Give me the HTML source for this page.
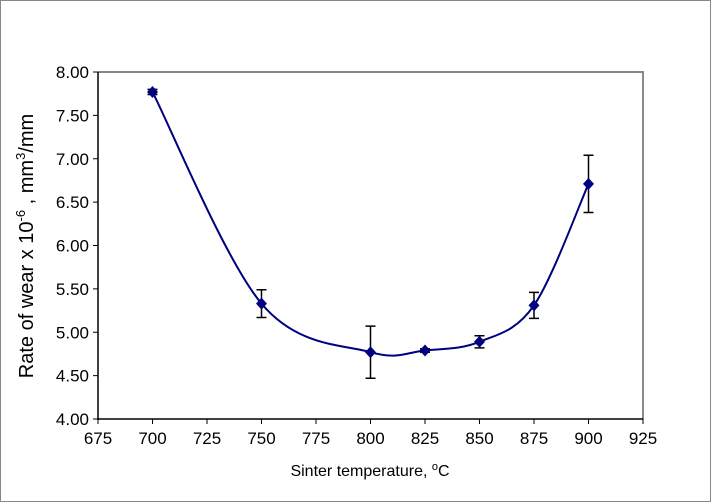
<!DOCTYPE html>
<html><head><meta charset="utf-8"><style>
body{margin:0;background:#fff}
svg{display:block;font-family:"Liberation Sans",Arial,sans-serif}
</style></head><body>
<svg id="c" width="711" height="502">
<rect x="0.5" y="0.5" width="710" height="501" fill="#fff" stroke="#888"/>
<g id="g"></g>
</svg>
<script>
const temps=[700,750,800,825,850,875,900];
const wear=[7.77,5.33,4.77,4.79,4.89,5.31,6.71];
const errs=[0.03,0.16,0.30,0.02,0.07,0.15,0.33];
const xTicks=[675,700,725,750,775,800,825,850,875,900,925];
const yTicks=[4.00,4.50,5.00,5.50,6.00,6.50,7.00,7.50,8.00];
const L=98,R=643,T=72,B=419;
const X=v=>L+(v-675)/250*(R-L);
const Y=v=>B-(v-4)/4*(B-T);
const ns="http://www.w3.org/2000/svg";
const g=document.getElementById('g');
function el(t,a,p){const e=document.createElementNS(ns,t);for(const k in a)e.setAttribute(k,a[k]);(p||g).appendChild(e);return e;}
let e;
e=el('path',{d:`M${L},${T}H${R}V${B}`,fill:'none',stroke:'#888',"stroke-width":2});


e=el('line',{x1:L,y1:T,x2:L,y2:B+1,stroke:'#000',"stroke-width":1.5});


e=el('line',{x1:L-1,y1:B,x2:R,y2:B,stroke:'#000',"stroke-width":1.5});


yTicks.forEach(v=>{
 el('line',{x1:L-5,y1:Y(v),x2:L,y2:Y(v),stroke:'#000'});
 const t=el('text',{x:L-9,y:Y(v)+6,"text-anchor":"end","font-size":17});
 t.textContent=v.toFixed(2);
 
 
});
xTicks.forEach(v=>{
 el('line',{x1:X(v),y1:B,x2:X(v),y2:B+5,stroke:'#000'});
 const t=el('text',{x:X(v),y:B+25,"text-anchor":"middle","font-size":17});
 t.textContent=v;
 
 
});
const P=temps.map((t,i)=>[X(t),Y(wear[i])]);
let d=`M${P[0][0]},${P[0][1]}`;
for(let i=0;i<P.length-1;i++){
 const p0=P[i-1]||P[i],p1=P[i],p2=P[i+1],p3=P[i+2]||P[i+1];
 const c1=[p1[0]+(p2[0]-p0[0])/6,p1[1]+(p2[1]-p0[1])/6];
 const c2=[p2[0]-(p3[0]-p1[0])/6,p2[1]-(p3[1]-p1[1])/6];
 d+=`C${c1[0]},${c1[1]} ${c2[0]},${c2[1]} ${p2[0]},${p2[1]}`;
}
e=el('path',{d:d,fill:'none',stroke:'#000080',"stroke-width":2});


temps.forEach((t,i)=>{
 const x=X(t),y1=Y(wear[i]+errs[i]),y2=Y(wear[i]-errs[i]);
 const b=el('path',{d:`M${x},${y1}V${y2}M${x-5},${y1}H${x+5}M${x-5},${y2}H${x+5}`,stroke:'#000',"stroke-width":1.5,fill:'none'});
 
 
 const y=Y(wear[i]);
 const m=el('path',{d:`M${x},${y-6}L${x+5.5},${y}L${x},${y+6}L${x-5.5},${y}Z`,fill:'#000080'});
 
 
});
</script>
<svg style="position:absolute;left:0;top:0" width="711" height="502">
<text x="370" y="476" text-anchor="middle" font-size="16" font-family="Liberation Sans,Arial,sans-serif">Sinter temperature, <tspan font-size="11" dy="-6">o</tspan><tspan dy="6">C</tspan></text>
<text transform="translate(33,246) rotate(-90)" text-anchor="middle" font-size="20" font-family="Liberation Sans,Arial,sans-serif">Rate of wear x 10<tspan font-size="13" dy="-8">-6</tspan><tspan dy="8"> , mm</tspan><tspan font-size="13" dy="-8">3</tspan><tspan dy="8">/mm</tspan></text>
</svg>
</body></html>
